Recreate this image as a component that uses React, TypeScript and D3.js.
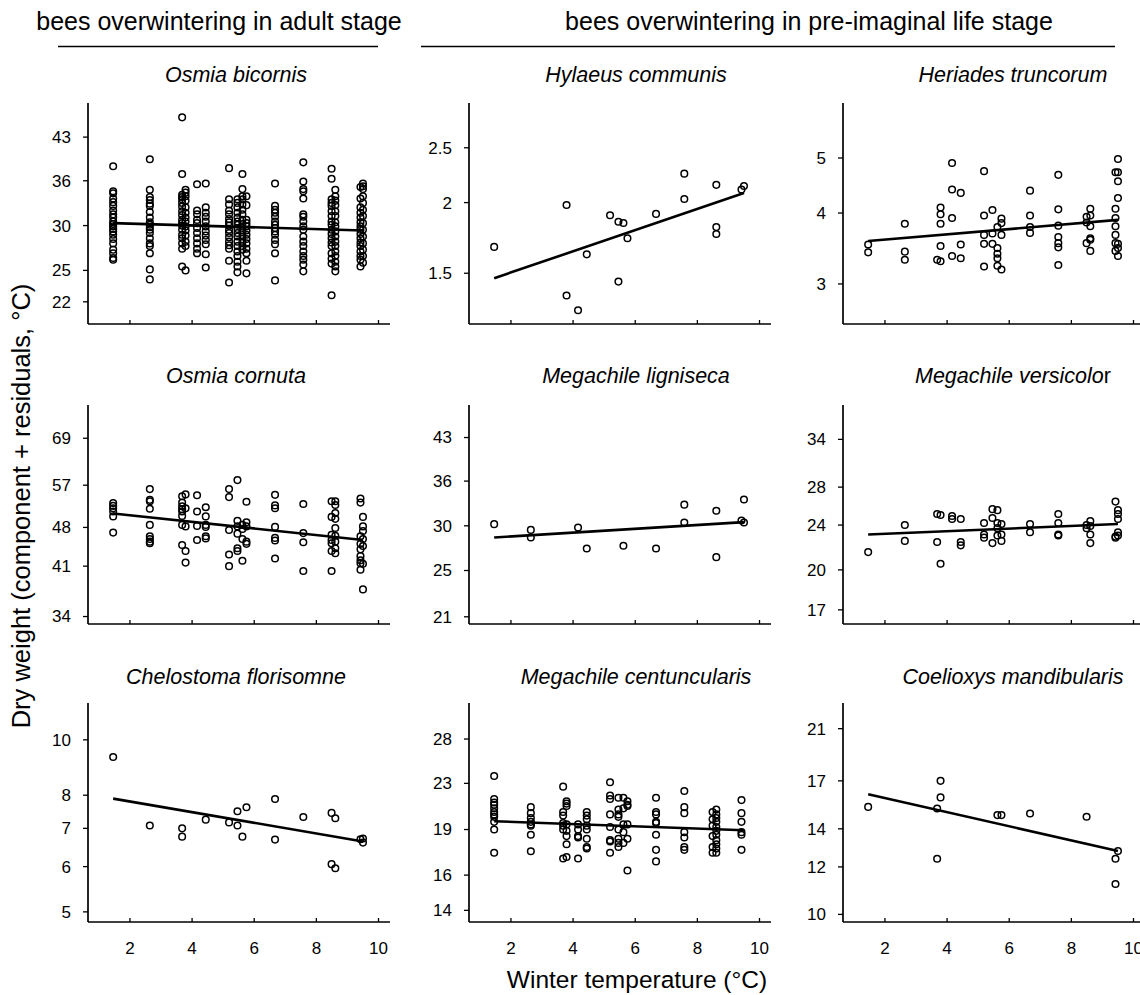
import React from "react";
import * as d3 from "d3";

type Group = [number, number[]];

// ---- data (winter temperature site -> dry weights) ----
const osmiaBicornis: Group[] = [
  [1.46, [38.2, 34.5, 34.2, 33.5, 33.0, 32.5, 31.9, 31.4, 31.0, 30.5, 30.2, 29.9, 29.6, 29.3, 28.9, 28.4, 27.9, 27.2, 26.8, 26.3, 26.1]],
  [2.64, [39.3, 34.7, 33.7, 33.3, 32.8, 32.5, 31.7, 31.0, 30.4, 30.1, 29.8, 29.5, 29.1, 28.5, 27.9, 27.6, 26.8, 25.1, 24.1]],
  [3.68, [46.6, 37.0, 34.0, 33.7, 33.4, 32.9, 32.4, 31.8, 31.3, 30.7, 30.3, 30.0, 29.5, 28.9, 28.5, 27.9, 27.3, 25.4]],
  [3.79, [34.7, 34.3, 33.8, 33.2, 32.3, 31.6, 31.0, 30.5, 29.9, 29.4, 28.8, 28.1, 27.6, 25.0]],
  [4.16, [35.5, 31.9, 31.4, 30.7, 30.3, 29.7, 29.1, 28.5, 27.9, 27.3, 26.8]],
  [4.44, [35.6, 32.3, 31.6, 31.1, 30.5, 29.9, 29.3, 28.8, 28.3, 27.8, 26.7, 25.3]],
  [5.19, [37.9, 33.4, 32.7, 31.9, 31.4, 30.8, 30.4, 30.0, 29.5, 29.1, 28.6, 28.1, 27.7, 27.3, 26.0, 23.8]],
  [5.46, [33.4, 32.9, 32.3, 31.6, 31.0, 30.5, 30.1, 29.6, 29.1, 28.7, 28.1, 27.6, 27.0, 26.5, 25.9, 25.4, 24.8]],
  [5.62, [37.0, 34.8, 33.8, 33.4, 32.7, 32.0, 31.4, 30.7, 30.2, 29.7, 29.2, 28.7, 28.1, 27.6, 27.2]],
  [5.75, [33.8, 32.6, 30.7, 30.3, 29.9, 29.4, 28.9, 28.4, 27.9, 27.3, 26.8, 26.0, 24.7]],
  [6.67, [35.6, 32.5, 32.0, 31.6, 31.1, 30.5, 30.1, 29.7, 29.3, 28.9, 28.3, 27.8, 26.8, 24.0]],
  [7.58, [38.8, 35.9, 34.8, 34.5, 33.5, 31.4, 31.1, 30.5, 29.9, 29.5, 28.7, 28.1, 27.6, 27.0, 26.5, 26.1, 25.6, 24.9]],
  [8.49, [37.8, 36.3, 33.4, 32.9, 32.5, 31.8, 31.2, 30.5, 30.1, 29.5, 29.0, 28.5, 28.0, 27.6, 26.8, 26.2, 25.7, 22.6]],
  [8.61, [34.7, 33.8, 33.2, 32.6, 31.8, 31.2, 30.4, 29.9, 29.3, 28.7, 28.1, 27.6, 27.0, 26.5, 25.9, 25.4, 24.9]],
  [9.42, [35.1, 33.5, 32.3, 31.6, 31.0, 30.4, 29.9, 29.5, 29.0, 28.5, 28.0, 27.6, 27.0, 26.5, 26.1, 25.4]],
  [9.5, [35.6, 35.2, 34.8, 33.8, 32.9, 32.0, 31.2, 30.3, 29.5, 28.7, 27.9, 27.2, 26.5, 25.8]],
];

const hylaeusCommunis: Group[] = [
  [1.46, [1.67]], [3.79, [1.98, 1.37]], [4.16, [1.29]], [4.44, [1.62]], [5.19, [1.9]],
  [5.46, [1.85, 1.45]], [5.62, [1.84]], [5.75, [1.73]], [6.67, [1.91]], [7.58, [2.25, 2.03]],
  [8.61, [2.15, 1.81, 1.76]], [9.42, [2.11]], [9.5, [2.14]],
];

const heriadesTruncorum: Group[] = [
  [1.46, [3.52, 3.41]], [2.64, [3.83, 3.42, 3.31]], [3.68, [3.31]], [3.79, [4.09, 3.98, 3.83, 3.5, 3.29]],
  [4.16, [4.9, 4.4, 3.92, 3.36]], [4.44, [4.34, 3.52, 3.33]], [5.19, [4.74, 3.96, 3.66, 3.53, 3.22]],
  [5.46, [4.05, 3.68, 3.53]], [5.62, [3.78, 3.47, 3.39, 3.33, 3.23]], [5.75, [3.91, 3.84, 3.66, 3.18]],
  [6.67, [4.38, 3.96, 3.78, 3.69]], [7.58, [4.67, 4.06, 3.8, 3.63, 3.54, 3.48, 3.24]],
  [8.49, [3.94, 3.85, 3.54]], [8.61, [4.07, 3.96, 3.79, 3.61, 3.59, 3.43]],
  [9.42, [4.72, 4.07, 3.92, 3.79, 3.66, 3.54, 3.43]], [9.5, [4.98, 4.72, 4.55, 4.25, 3.53, 3.47, 3.36]],
];

const osmiaCornuta: Group[] = [
  [1.46, [53.0, 52.4, 51.9, 51.2, 50.2, 47.0]],
  [2.64, [56.1, 53.7, 53.4, 51.8, 48.5, 46.3, 45.8, 45.3, 45.0]],
  [3.68, [54.5, 53.1, 52.3, 51.7, 51.2, 50.3, 48.5, 44.7]],
  [3.79, [54.9, 51.9, 48.2, 43.6, 41.6]],
  [4.16, [54.7, 51.2, 48.3, 45.6]],
  [4.44, [52.1, 50.2, 48.5, 48.1, 46.3, 45.9]],
  [5.19, [56.1, 54.3, 47.5, 43.0, 41.0]],
  [5.46, [58.2, 49.3, 48.2, 46.8, 44.1, 43.6]],
  [5.62, [48.5, 47.7, 45.8, 41.9]],
  [5.75, [53.3, 49.0, 48.2, 45.3, 44.9]],
  [6.67, [54.8, 52.5, 51.9, 48.1, 46.0, 45.5, 42.3]],
  [7.58, [52.8, 46.9, 45.2, 40.2]],
  [8.49, [53.4, 50.1, 46.6, 45.6, 45.0, 43.6, 40.2]],
  [8.61, [53.4, 52.6, 50.9, 49.7, 47.9, 46.4, 45.3, 44.1, 43.2]],
  [9.42, [54.0, 53.1, 46.3, 44.9, 43.9, 42.7, 42.0, 41.5, 40.4]],
  [9.5, [50.1, 48.2, 47.3, 45.8, 44.5, 41.4, 37.3]],
];

const megachileLigniseca: Group[] = [
  [1.46, [30.2]], [2.64, [29.5, 28.6]], [4.16, [29.8]], [4.44, [27.35]], [5.62, [27.65]],
  [6.67, [27.35]], [7.58, [32.7, 30.4]], [8.61, [31.9, 26.4]], [9.42, [30.65]], [9.5, [33.4, 30.4]],
];

const megachileVersicolor: Group[] = [
  [1.46, [21.5]], [2.64, [24.0, 22.5]], [3.68, [25.1, 22.4]], [3.79, [25.0, 20.5]], [4.16, [24.9, 24.6]],
  [4.44, [24.6, 22.4, 22.1]], [5.19, [24.2, 23.1, 22.8]], [5.46, [25.6, 24.7, 22.3]],
  [5.62, [25.5, 24.2, 23.7, 23.0]], [5.75, [24.1, 23.1, 22.5]], [6.67, [24.1, 23.3]],
  [7.58, [25.1, 24.2, 23.1, 23.0]], [8.49, [24.0, 23.7]], [8.61, [24.4, 23.9, 23.1, 22.3]],
  [9.42, [26.4, 22.8, 22.9]], [9.5, [25.5, 25.1, 24.6, 23.3, 23.0]],
];

const chelostomaFlorisomne: Group[] = [
  [1.46, [9.33]], [2.64, [7.08]], [3.68, [7.0, 6.77]], [4.44, [7.25]], [5.19, [7.17]],
  [5.46, [7.5, 7.08]], [5.62, [6.77]], [5.75, [7.62]], [6.67, [7.88, 6.69]], [7.58, [7.33]],
  [8.49, [7.45, 6.06]], [8.61, [7.29, 5.96]], [9.42, [6.7]], [9.5, [6.72, 6.61]],
];

const megachileCentuncularis: Group[] = [
  [1.46, [23.6, 21.5, 21.2, 21.0, 20.7, 20.4, 20.2, 20.0, 19.6, 19.0, 17.3]],
  [2.64, [20.8, 20.3, 19.9, 19.6, 19.4, 19.3, 18.6, 17.4]],
  [3.68, [22.6, 20.4, 20.1, 19.5, 19.3, 19.0, 16.9]],
  [3.79, [21.3, 21.1, 20.9, 19.4, 18.9, 18.5, 17.9, 17.0]],
  [4.16, [19.4, 19.0, 18.5, 18.4, 16.9]],
  [4.44, [20.4, 20.1, 19.8, 19.3, 19.0, 18.3, 17.7, 17.6]],
  [5.19, [23.0, 21.8, 21.5, 20.2, 19.2, 18.2, 18.1, 17.3]],
  [5.46, [21.6, 20.6, 20.2, 20.0, 19.0, 18.3, 18.0, 17.7]],
  [5.62, [21.6, 20.7, 19.4, 18.8, 18.0]],
  [5.75, [21.3, 21.0, 20.9, 19.4, 18.3, 16.1]],
  [6.67, [21.6, 20.4, 20.2, 19.6, 19.5, 18.6, 17.5, 16.7]],
  [7.58, [22.2, 20.8, 20.3, 18.8, 18.4, 17.7, 17.5]],
  [8.49, [20.4, 19.8, 19.3, 18.5, 17.7, 17.3]],
  [8.61, [20.6, 20.2, 19.9, 19.6, 19.2, 18.9, 18.6, 18.2, 17.9, 17.6, 17.3]],
  [9.42, [21.4, 20.3, 19.6, 18.8, 18.6, 17.5]],
];

const coelioxysMandibularis: Group[] = [
  [1.46, [15.3]], [3.68, [15.2, 12.4]], [3.79, [17.0, 15.9]], [5.62, [14.8]], [5.75, [14.8]],
  [6.67, [14.9]], [8.49, [14.7]], [9.42, [12.4, 11.2]], [9.5, [12.8]],
];

const speciesItalic = [
  "Osmia bicornis", "Hylaeus communis", "Heriades truncorum",
  "Osmia cornuta", "Megachile ligniseca", "Megachile versicolo",
  "Chelostoma florisomne", "Megachile centuncularis", "Coelioxys mandibularis",
];
const speciesUpright = ["", "", "", "", "", "r", "", "", ""];

const speciesData = [
  osmiaBicornis, hylaeusCommunis, heriadesTruncorum,
  osmiaCornuta, megachileLigniseca, megachileVersicolor,
  chelostomaFlorisomne, megachileCentuncularis, coelioxysMandibularis,
];

// fitted regression line (start at x=1.46, end at x=9.5)
const fitX = [1.46, 9.5];
const fitStart = [30.3, 1.47, 3.57, 50.8, 28.6, 23.1, 7.89, 19.65, 16.1];
const fitEnd = [29.4, 2.08, 3.89, 45.6, 30.45, 24.1, 6.64, 18.95, 12.8];

const yDomains: [number, number][] = [
  [20.1, 49.4], [1.22, 3.0], [2.55, 6.25],
  [32.4, 79], [20.1, 49.1], [16.05, 39.1],
  [4.8, 11.6], [13.07, 31.7], [9.6, 23.3],
];
const yTickValues = [
  [22, 25, 30, 36, 43], [1.5, 2, 2.5], [3, 4, 5],
  [33.4, 41, 48, 57, 69], [20.7, 25, 30, 36, 43], [17, 20, 24, 28, 34],
  [5, 6, 7, 8, 10], [13.7, 15.8, 19, 22.9, 27.4], [9.9, 12, 14, 17, 21],
];
const yTickLabels = [
  ["22", "25", "30", "36", "43"], ["1.5", "2", "2.5"], ["3", "4", "5"],
  ["34", "41", "48", "57", "69"], ["21", "25", "30", "36", "43"], ["17", "20", "24", "28", "34"],
  ["5", "6", "7", "8", "10"], ["14", "16", "19", "23", "28"], ["10", "12", "14", "17", "21"],
];

const xTicks = [2, 4, 6, 8, 10];
const xDomain: [number, number] = [0.65, 10.37];

const groupHeaders = ["bees overwintering in adult stage", "bees overwintering in pre-imaginal life stage"];

// ---- layout ----
const W = 1140;
const H = 995;
const ROW_TOP = [103, 405, 703];
const ROW_BOTTOM = [324, 624, 922];
const COL_LEFT = [88, 469, 843];
const AXIS_LEN = 302;
const TITLE_Y = [82, 383, 684];
const TITLE_X = [236, 636, 1013];
const FONT = "'Liberation Sans', Arial, Helvetica, sans-serif";

function Panel({ i }: { i: number }) {
  const r = Math.floor(i / 3);
  const c = i % 3;
  const left = COL_LEFT[c];
  const top = ROW_TOP[r];
  const bottom = ROW_BOTTOM[r];
  const x = d3.scaleLinear().domain(xDomain).range([left, left + AXIS_LEN]);
  const y = d3.scaleLog().domain(yDomains[i]).range([bottom, top]);
  const pts: [number, number][] = [];
  speciesData[i].forEach(([xv, ys]) => ys.forEach((yv) => pts.push([xv, yv])));
  const line = d3
    .line<[number, number]>()
    .x((d) => x(d[0]))
    .y((d) => y(d[1]));
  const fit: [number, number][] = [
    [fitX[0], fitStart[i]],
    [fitX[1], fitEnd[i]],
  ];
  return (
    <g>
      <text x={TITLE_X[c]} y={TITLE_Y[r]} textAnchor="middle" fontSize={21.5} fontFamily={FONT}>
        <tspan fontStyle="italic">{speciesItalic[i]}</tspan>
        {speciesUpright[i] ? <tspan>{speciesUpright[i]}</tspan> : null}
      </text>
      <line x1={left} x2={left} y1={top} y2={bottom} stroke="#000" strokeWidth={1.7} />
      <line x1={left} x2={left + AXIS_LEN} y1={bottom} y2={bottom} stroke="#000" strokeWidth={1.7} />
      {yTickValues[i].map((v, k) => (
        <g key={"y" + k}>
          <line x1={left - 5} x2={left} y1={y(v)} y2={y(v)} stroke="#000" strokeWidth={1.3} />
          <text x={left - 17} y={y(v)} dy="0.35em" textAnchor="end" fontSize={17} fontFamily={FONT}>
            {yTickLabels[i][k]}
          </text>
        </g>
      ))}
      {xTicks.map((v) => (
        <g key={"x" + v}>
          <line x1={x(v)} x2={x(v)} y1={bottom} y2={bottom - 4} stroke="#000" strokeWidth={1.3} />
          {r === 2 ? (
            <text x={x(v)} y={bottom + 32} textAnchor="middle" fontSize={17} fontFamily={FONT}>
              {v}
            </text>
          ) : null}
        </g>
      ))}
      {pts.map((p, k) => (
        <circle key={k} cx={x(p[0])} cy={y(p[1])} r={3.3} fill="none" stroke="#000" strokeWidth={1.5} />
      ))}
      <path d={line(fit) || ""} stroke="#000" strokeWidth={2.6} fill="none" />
    </g>
  );
}

export default function App() {
  return (
    <svg
      width={W}
      height={H}
      viewBox={`0 0 ${W} ${H}`}
      style={{ position: "absolute", left: 0, top: 0, display: "block", background: "#fff" }}
    >
      <rect x={0} y={0} width={W} height={H} fill="#fff" />
      <text x={219} y={30} textAnchor="middle" fontSize={25} fontFamily={FONT}>
        {groupHeaders[0]}
      </text>
      <line x1={58} x2={378} y1={46.5} y2={46.5} stroke="#000" strokeWidth={1.3} />
      <text x={809} y={30} textAnchor="middle" fontSize={25} fontFamily={FONT}>
        {groupHeaders[1]}
      </text>
      <line x1={421} x2={1115} y1={46.5} y2={46.5} stroke="#000" strokeWidth={1.3} />
      {speciesData.map((_, i) => (
        <Panel key={i} i={i} />
      ))}
      <text
        transform="translate(30,506) rotate(-90)"
        textAnchor="middle"
        fontSize={25.5}
        fontFamily={FONT}
      >
        Dry weight (component + residuals, °C)
      </text>
      <text x={637} y={988} textAnchor="middle" fontSize={24.5} fontFamily={FONT}>
        Winter temperature (°C)
      </text>
    </svg>
  );
}
